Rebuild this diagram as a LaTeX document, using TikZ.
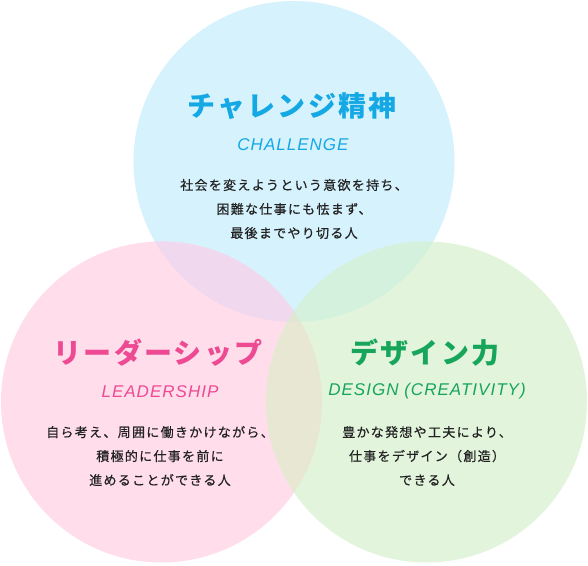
\documentclass[tikz,border=0pt]{standalone}
\usepackage{fontspec}
\setmainfont{Liberation Sans}
\newfontfamily\jptitle{Noto Sans CJK JP}[LetterSpace=8]
\newfontfamily\jpbody{Noto Sans CJK JP}[LetterSpace=10,FakeBold=0.4]
\newfontfamily\ensub{Liberation Sans}[LetterSpace=6]
\definecolor{cblue}{HTML}{D5F2FD}
\definecolor{cpink}{HTML}{FFDDEB}
\definecolor{cgreen}{HTML}{E2F5DC}
\definecolor{cbp}{HTML}{F0D8EE}
\definecolor{cbg}{HTML}{D4F1DD}
\definecolor{cpg}{HTML}{E8E7D3}
\definecolor{cpbg}{HTML}{E1E5D4}
\definecolor{tblue}{HTML}{14A8E4}
\definecolor{tpink}{HTML}{EE4A93}
\definecolor{tgreen}{HTML}{17A55B}
\definecolor{tbody}{HTML}{222222}
\begin{document}
\begin{tikzpicture}[x=1pt,y=-1pt,
  titletext/.style={inner sep=0pt, font=\jptitle\bfseries\fontsize{28pt}{30pt}\selectfont},
  subtext/.style={inner sep=0pt, font=\ensub\itshape\fontsize{17pt}{20pt}\selectfont},
  bodytext/.style={inner sep=0pt, align=center, text=tbody, font=\jpbody\fontsize{13pt}{24pt}\selectfont}]
\useasboundingbox (0,0) rectangle (588,565);
\def\R{160.5pt}
\coordinate (T) at (294,161.5);
\coordinate (L) at (161.5,402);
\coordinate (Rc) at (426.5,402);
% base circles
\fill[cblue] (T) circle[radius=\R];
\fill[cpink] (L) circle[radius=\R];
\fill[cgreen] (Rc) circle[radius=\R];
% pairwise overlaps
\begin{scope}
  \clip (T) circle[radius=\R];
  \fill[cbp] (L) circle[radius=\R];
\end{scope}
\begin{scope}
  \clip (T) circle[radius=\R];
  \fill[cbg] (Rc) circle[radius=\R];
\end{scope}
\begin{scope}
  \clip (L) circle[radius=\R];
  \fill[cpg] (Rc) circle[radius=\R];
\end{scope}
\begin{scope}
  \clip (T) circle[radius=\R];
  \clip (L) circle[radius=\R];
  \fill[cpbg] (Rc) circle[radius=\R];
\end{scope}
% top circle texts
\node[titletext, text=tblue] (ttitle) at (292,106) {チャレンジ精神};
\node[subtext, text=tblue] (tsub) at (293,144.5) {CHALLENGE};
\node[bodytext] (tbody) at (294,209) {社会を変えようという意欲を持ち、\\困難な仕事にも怯まず、\\最後までやり切る人};
% left circle texts
\node[titletext, text=tpink] (ltitle) at (158,353) {リーダーシップ};
\node[subtext, text=tpink] (lsub) at (160,391.5) {LEADERSHIP};
\node[bodytext] (lbody) at (160,456) {自ら考え、周囲に働きかけながら、\\積極的に仕事を前に\\進めることができる人};
% right circle texts
\node[titletext, text=tgreen] (rtitle) at (425,353) {デザイン力};
\node[subtext, text=tgreen] (rsub) at (427,391.5) {DESIGN (CREATIVITY)};
\node[bodytext] (rbody) at (427,456) {豊かな発想や工夫により、\\仕事をデザイン（創造）\\できる人};
\end{tikzpicture}
\end{document}
